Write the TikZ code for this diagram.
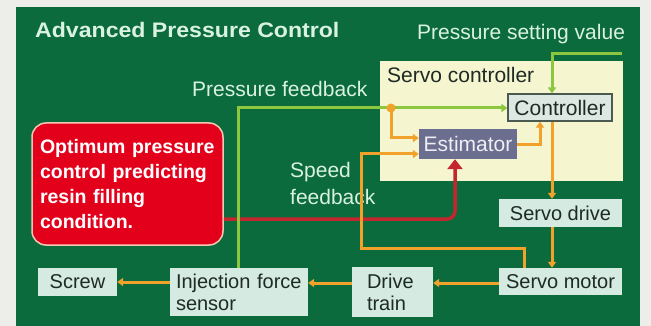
\documentclass[tikz,border=0pt]{standalone}
\usepackage{fontspec}
\setmainfont{Liberation Sans}
\usetikzlibrary{arrows.meta}
\definecolor{margin}{HTML}{EDEDEA}
\definecolor{bggreen}{HTML}{0B6B3D}
\definecolor{mint}{HTML}{D9F2E1}
\definecolor{boxfill}{HTML}{D5EAE0}
\definecolor{boxtext}{HTML}{1E2A24}
\definecolor{sctrl}{HTML}{F5F5D0}
\definecolor{ctrlfill}{HTML}{DDE8E2}
\definecolor{ctrlborder}{HTML}{4A5A50}
\definecolor{estfill}{HTML}{6B6E8E}
\definecolor{esttext}{HTML}{EEEEF5}
\definecolor{lgreen}{HTML}{8DC63F}
\definecolor{lorange}{HTML}{F2A22A}
\definecolor{redbox}{HTML}{E3001B}
\definecolor{redborder}{HTML}{F0C8B4}
\definecolor{redline}{HTML}{C4262E}
\tikzset{
  lbl/.style={font=\fontsize{21}{27}\selectfont, text=mint, inner sep=0pt},
  blockbox/.style={fill=boxfill, text=boxtext, font=\fontsize{20}{22}\selectfont, inner sep=0pt, align=center},
  gline/.style={draw=lgreen, line width=3pt, -{Triangle[length=6pt,width=8pt]}},
  oline/.style={draw=lorange, line width=3pt, -{Triangle[length=6pt,width=8pt]}},
  rline/.style={draw=redline, line width=3.5pt, -{Triangle[length=10pt,width=15pt]}},
}
\begin{document}
\begin{tikzpicture}[x=1pt,y=-1pt]
\useasboundingbox (0,0) rectangle (651,326);
\fill[margin] (0,0) rectangle (651,326);
\fill[bggreen] (16,7) rectangle (640,326);

% titles
\node[lbl, anchor=base west, font=\fontsize{21}{25}\selectfont\bfseries] (title) at (35,38) {\scalebox{1.1}[1]{Advanced Pressure Control}};
\node[lbl, anchor=base west] (psvtext) at (417,40) {Pressure setting value};
\node[lbl, anchor=base west] (pftext) at (192,97) {Pressure feedback};
\node[lbl, anchor=north west, align=left] (sftext) at (290,162) {Speed\\feedback};

% servo controller
\node[fill=sctrl, minimum width=243pt, minimum height=120pt, inner sep=0pt] (sc) at (501.5,121) {};
\node[anchor=base west, inner sep=0pt, text=boxtext, font=\fontsize{21}{25}\selectfont] (sctext) at (387,83) {Servo controller};
\node[fill=ctrlfill, draw=ctrlborder, line width=1.2pt, text=boxtext, font=\fontsize{21}{25}\selectfont, minimum width=104pt, minimum height=27pt, inner sep=0pt] (ctrl) at (560,107.5) {Controller};
\node[fill=estfill, text=esttext, font=\fontsize{21}{25}\selectfont, minimum width=98pt, minimum height=30pt, inner sep=0pt] (est) at (468,144) {Estimator};

% red box
\node[fill=redbox, draw=redborder, line width=1.5pt, rounded corners=14pt, text=white,
      font=\fontsize{19.5}{25.3}\selectfont\bfseries, align=left, text width=175pt,
      inner xsep=8pt, inner ysep=0pt, minimum height=122pt] (red) at (127.5,184)
  {Optimum pressure\\control predicting\\resin filling\\condition.};

% bottom blocks
\node[blockbox, minimum width=79pt, minimum height=28pt] (screw) at (77.5,282) {Screw};
\node[blockbox, align=left, text width=126pt, inner xsep=6pt, minimum height=48pt] (inj) at (239,292) {Injection force\\sensor};
\node[blockbox, align=left, text width=51pt, inner xsep=15pt, minimum height=50pt] (dtrain) at (392.5,292) {Drive\\train};
\node[blockbox, minimum width=123pt, minimum height=27pt] (smotor) at (560.5,281.5) {Servo motor};
\node[blockbox, minimum width=123pt, minimum height=28pt] (sdrive) at (560.5,213) {Servo drive};

% coordinates
\coordinate (psv) at (622,54);
\coordinate (pf) at (238,108);
\coordinate (tap) at (391,108);
\coordinate (sf1) at (524,248);
\coordinate (sf2) at (361,248);

% red arrow
\draw[rline, rounded corners=8pt] (red.east |- 0,219) -| (est.south -| 455,0);

% green connectors
\draw[gline] (psv) -| (ctrl.north -| 552,0);
\draw[gline] (inj.north -| pf) -- (pf) -- (pf -| ctrl.west);

% orange connectors
\draw[oline] (tap) |- (est.west |- 0,138);
\fill[lorange] (tap) circle (4.5pt);
\draw[oline] (smotor.north -| sf1) -- (sf1) -- (sf2) |- (est.west |- 0,154);
\draw[oline] (est.east |- 0,145) -| (ctrl.south -| 540,0);
\draw[oline] (ctrl.south -| 552,0) -- (sdrive.north -| 552,0);
\draw[oline] (sdrive.south -| 552,0) -- (smotor.north -| 552,0);
\draw[oline] (smotor.west |- 0,283) -- (dtrain.east |- 0,283);
\draw[oline] (dtrain.west |- 0,283) -- (inj.east |- 0,283);
\draw[oline] (inj.west |- 0,282) -- (screw.east |- 0,282);
\end{tikzpicture}
\end{document}
